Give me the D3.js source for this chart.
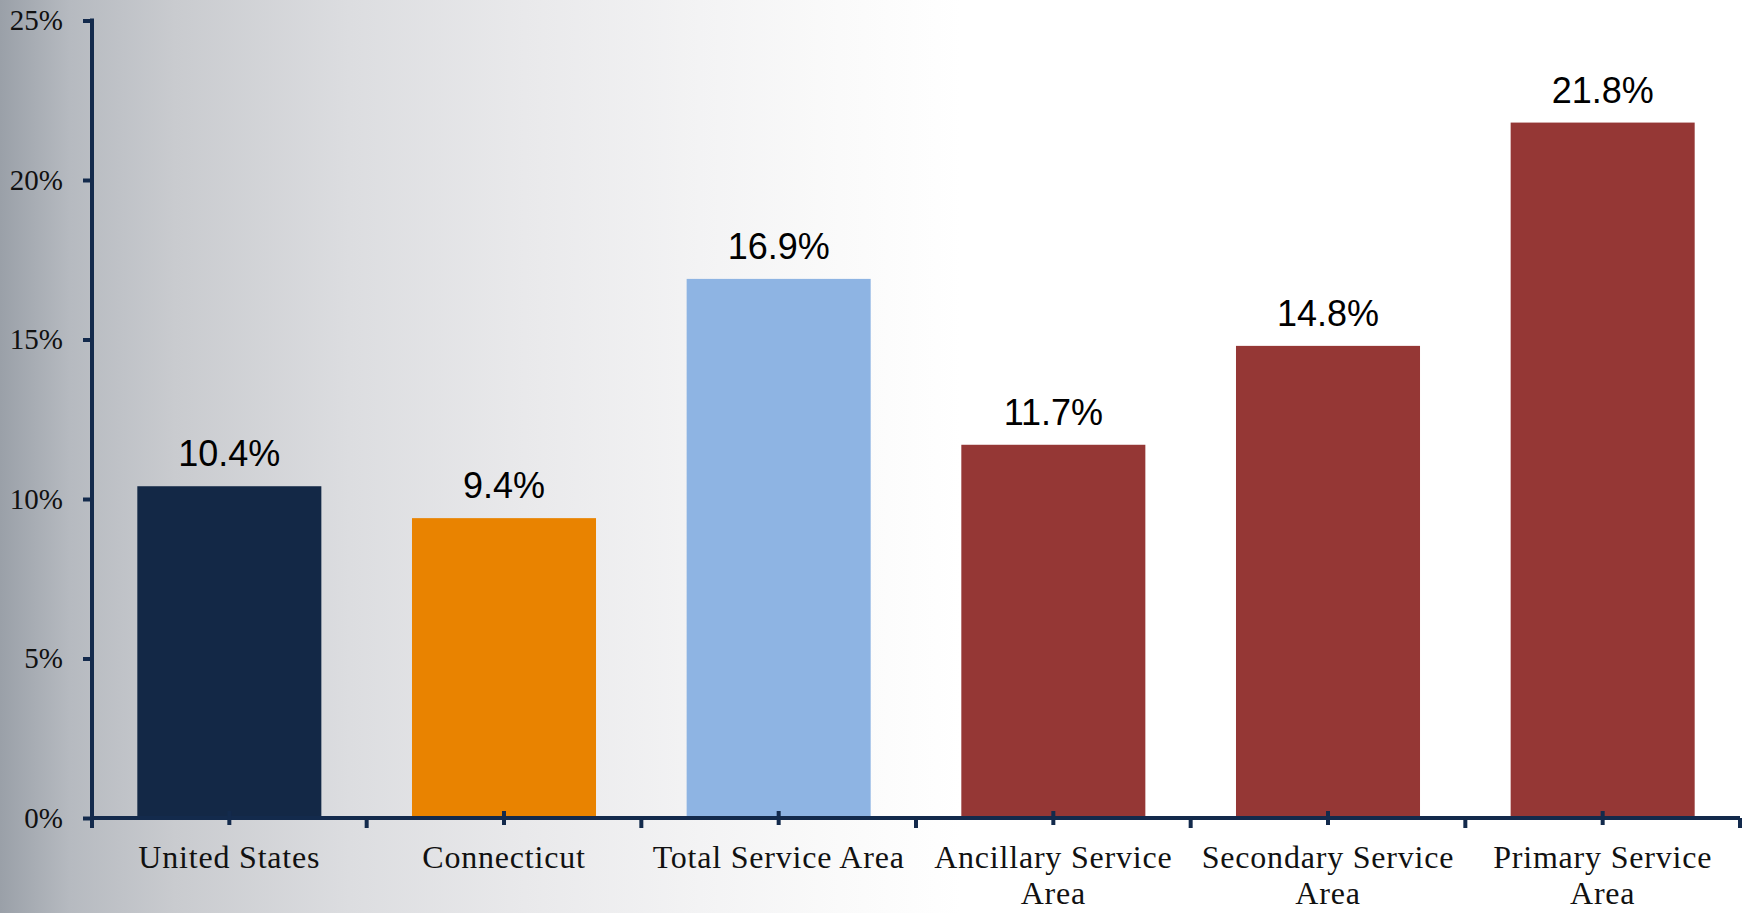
<!DOCTYPE html>
<html>
<head>
<meta charset="utf-8">
<script src="https://cdn.jsdelivr.net/npm/d3@7"></script>
<style>
  html, body { margin: 0; padding: 0; background: #ffffff; }
  svg { display: block; }
</style>
</head>
<body>
<svg id="chart" width="1748" height="913"></svg>
<script>
// Chart data
const categories = ["United States", "Connecticut", "Total Service Area", "Ancillary Service Area", "Secondary Service Area", "Primary Service Area"];
const values = [10.4, 9.4, 16.9, 11.7, 14.8, 21.8];
const barColors = ["#132846", "#E98300", "#8EB4E3", "#953735", "#953735", "#953735"];
const yTicks = [0, 5, 10, 15, 20, 25];

const W = 1748, H = 913;
const margin = { left: 92, right: 8, top: 20, bottom: 95 };
const axisColor = "#132a4c";

const svg = d3.select("#chart");

// Horizontal grey-to-white backdrop
const defs = svg.append("defs");
const grad = defs.append("linearGradient").attr("id", "bg").attr("x1", 0).attr("x2", 1).attr("y1", 0).attr("y2", 0);
[[0, "#9aa0a8"], [0.04, "#b6bac0"], [0.1, "#c9cbcf"], [0.2, "#dcdde0"], [0.3, "#e9e9eb"], [0.4, "#f3f3f4"], [0.48, "#fafafa"], [0.55, "#ffffff"], [1, "#ffffff"]]
  .forEach(([o, c]) => grad.append("stop").attr("offset", o).attr("stop-color", c));
svg.append("rect").attr("width", W).attr("height", H).attr("fill", "url(#bg)");

const x0 = margin.left, x1 = W - margin.right;
const yBase = 818;

const x = d3.scaleBand().domain(categories).range([x0, x1]).paddingInner(0.33).paddingOuter(0.165);
const y = d3.scaleLinear().domain([0, 25]).range([yBase, yBase - 797.5]);

// Bars
svg.append("g").selectAll("rect").data(categories).join("rect")
  .attr("x", d => x(d))
  .attr("width", x.bandwidth())
  .attr("y", (d, i) => y(values[i]))
  .attr("height", (d, i) => y(0) - y(values[i]))
  .attr("fill", (d, i) => barColors[i]);

// Value labels
svg.append("g").selectAll("text").data(categories).join("text")
  .attr("x", d => x(d) + x.bandwidth() / 2)
  .attr("y", (d, i) => y(values[i]) - 20)
  .attr("text-anchor", "middle")
  .attr("font-family", "'Liberation Sans', Arial, sans-serif")
  .attr("font-size", 36)
  .attr("fill", "#000")
  .text((d, i) => values[i].toFixed(1) + "%");

// Y axis
const yAxis = svg.append("g").attr("transform", `translate(${x0},0)`)
  .call(d3.axisLeft(y).tickValues(yTicks).tickSize(9).tickPadding(20).tickFormat(d => d + "%"));
yAxis.select(".domain").remove();
yAxis.selectAll(".tick line").attr("stroke", axisColor).attr("stroke-width", 4);
yAxis.selectAll(".tick text")
  .attr("font-family", "'Liberation Serif', 'Times New Roman', serif")
  .attr("font-size", 29)
  .attr("fill", "#111");
svg.append("line")
  .attr("x1", x0).attr("x2", x0)
  .attr("y1", y(25) - 2).attr("y2", yBase + 10)
  .attr("stroke", axisColor).attr("stroke-width", 4);

// X axis baseline
svg.append("line")
  .attr("x1", x0).attr("x2", x1)
  .attr("y1", yBase).attr("y2", yBase)
  .attr("stroke", axisColor).attr("stroke-width", 4);

// Boundary ticks between categories
const bounds = d3.range(categories.length + 1).map(i => x0 + i * x.step());
svg.append("g").selectAll("line").data(bounds).join("line")
  .attr("x1", d => d).attr("x2", d => d)
  .attr("y1", yBase).attr("y2", yBase + 10)
  .attr("stroke", axisColor).attr("stroke-width", 4);

// Center ticks and category labels (each tick group sits at its band centre)
const xAxis = svg.append("g").attr("transform", `translate(0,${yBase})`)
  .call(d3.axisBottom(x).tickSize(0).tickPadding(0));
xAxis.select(".domain").remove();
xAxis.selectAll(".tick line").remove();
xAxis.selectAll(".tick").append("line")
  .attr("x1", 0).attr("x2", 0)
  .attr("y1", -7).attr("y2", 7)
  .attr("stroke", axisColor).attr("stroke-width", 4);
xAxis.selectAll(".tick text")
  .attr("font-family", "'Liberation Serif', 'Times New Roman', serif")
  .attr("font-size", 32)
  .attr("letter-spacing", "0.8px")
  .attr("fill", "#111")
  .attr("dy", null)
  .attr("y", 50)
  .each(function (d) {
    const t = d3.select(this);
    t.text(d);
    if (this.getComputedTextLength() > x.step() - 4) {
      const words = d.split(" ");
      const last = words.pop();
      t.text(null);
      t.append("tspan").attr("x", 0).attr("y", 50).text(words.join(" "));
      t.append("tspan").attr("x", 0).attr("y", 86).text(last);
    }
  });
</script>
</body>
</html>
